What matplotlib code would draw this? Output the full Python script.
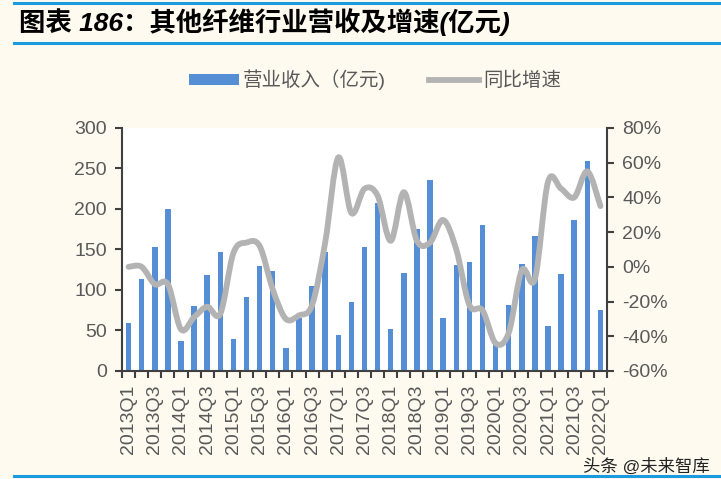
import matplotlib
matplotlib.use("Agg")
import matplotlib.pyplot as plt
import numpy as np
from matplotlib.path import Path
from matplotlib.patches import PathPatch, Patch
from matplotlib.lines import Line2D

plt.rcParams['font.family'] = ['Liberation Sans', 'Noto Sans CJK SC', 'DejaVu Sans']

years = list(range(2013, 2023))
quarters = [f"{y}Q{q}" for y in range(2013, 2022) for q in range(1, 5)] + ["2022Q1"]

revenue = [59, 113, 153, 200, 37, 80, 118, 147, 40, 91, 130, 124, 28, 66, 105, 147,
           45, 85, 153, 207, 52, 121, 175, 236, 66, 131, 135, 180, 33, 81, 132, 167,
           55, 120, 187, 259, 75]
growth = [0, 0, -10, -10, -36, -29, -23, -27, 8, 14, 12, -13, -30, -28, -22, 14,
          63, 31, 45, 41, 15, 43, 15, 14, 27, 10, -22, -25, -44, -38, -2, -7,
          49, 45, 40, 55, 35]

tick_labels = quarters[::2]

BG = '#FEFAF0'
BLUE = '#558ED5'
GRAY = '#B3B3B3'
TXT = '#595959'
SPINE = '#404040'

fig = plt.figure(figsize=(7.21, 4.79), dpi=100, facecolor=BG)
ax = fig.add_axes([0.1692, 0.2255, 0.6727, 0.5073])
ax.set_facecolor('white')
x = np.arange(len(quarters))
ax.bar(x, revenue, width=0.42, color=BLUE, zorder=2)
ax.set_xlim(-0.5, len(quarters) - 0.5)
ax.set_ylim(0, 300)
ax.set_yticks(range(0, 301, 50))

ax2 = ax.twinx()
ax2.set_ylim(-60, 80)
ax2.set_yticks(range(-60, 81, 20))
ax2.set_yticklabels([f"{v}%" for v in range(-60, 81, 20)])

# smooth line (Catmull-Rom -> Bezier) through data points
pts = np.column_stack([x, growth]).astype(float)
verts = [tuple(pts[0])]
codes = [Path.MOVETO]
n = len(pts)
for i in range(n - 1):
    p0 = pts[i - 1] if i > 0 else pts[i]
    p1 = pts[i]
    p2 = pts[i + 1]
    p3 = pts[i + 2] if i + 2 < n else pts[i + 1]
    c1 = p1 + (p2 - p0) / 6.0
    c2 = p2 - (p3 - p1) / 6.0
    verts += [tuple(c1), tuple(c2), tuple(p2)]
    codes += [Path.CURVE4] * 3
path = Path(verts, codes)
ax2.add_patch(PathPatch(path, facecolor='none', edgecolor=GRAY, lw=4.2,
                        capstyle='round', joinstyle='round', zorder=3))

for a in (ax, ax2):
    a.spines['top'].set_visible(False)
    for s in ('left', 'right', 'bottom'):
        a.spines[s].set_color(SPINE)
        a.spines[s].set_linewidth(1.5)
ax.spines['right'].set_visible(False)
ax2.spines['left'].set_visible(False)
ax2.spines['bottom'].set_visible(False)

ax.tick_params(axis='y', direction='out', length=5, width=1.5, color=SPINE,
               labelsize=14, labelcolor=TXT, pad=6)
ax2.tick_params(axis='y', direction='out', length=5, width=1.5, color=SPINE,
                labelsize=14, labelcolor=TXT, pad=6)

ax.set_xticks(np.arange(-0.5, len(quarters), 1.0))
ax.set_xticklabels([])
ax.tick_params(axis='x', which='major', direction='out', length=5, width=1.5, color=SPINE)
ax.set_xticks(x[::2], minor=True)
ax.set_xticklabels(tick_labels, minor=True, rotation=90, fontsize=14, color=TXT)
ax.tick_params(axis='x', which='minor', length=0, pad=10)

# legend
handles = [Patch(facecolor=BLUE, edgecolor='none'),
           Line2D([0], [0], color=GRAY, lw=4.2)]
fig.legend(handles, ['营业收入（亿元)', '同比增速'], loc='center', bbox_to_anchor=(0.52, 0.833),
           ncol=2, frameon=False, fontsize=14, labelcolor=TXT, handlelength=2.6,
           handleheight=0.55, columnspacing=2.2, handletextpad=0.2)

# title and decoration lines
fig.text(0.027, 0.954, '图表 186：其他纤维行业营收及增速(亿元)', fontsize=19,
         fontweight='bold', fontstyle='italic', color='black', va='center', ha='left')
for yy in (0.9937, 0.910, 0.0063):
    fig.add_artist(Line2D([0.02, 1.0], [yy, yy], transform=fig.transFigure,
                          color='#1A9BE0', lw=2.2))

fig.text(0.985, 0.027, '头条 @未来智库', fontsize=12.5, color='#222222', ha='right', va='center')

fig.savefig('out.png', dpi=100, facecolor=BG)
